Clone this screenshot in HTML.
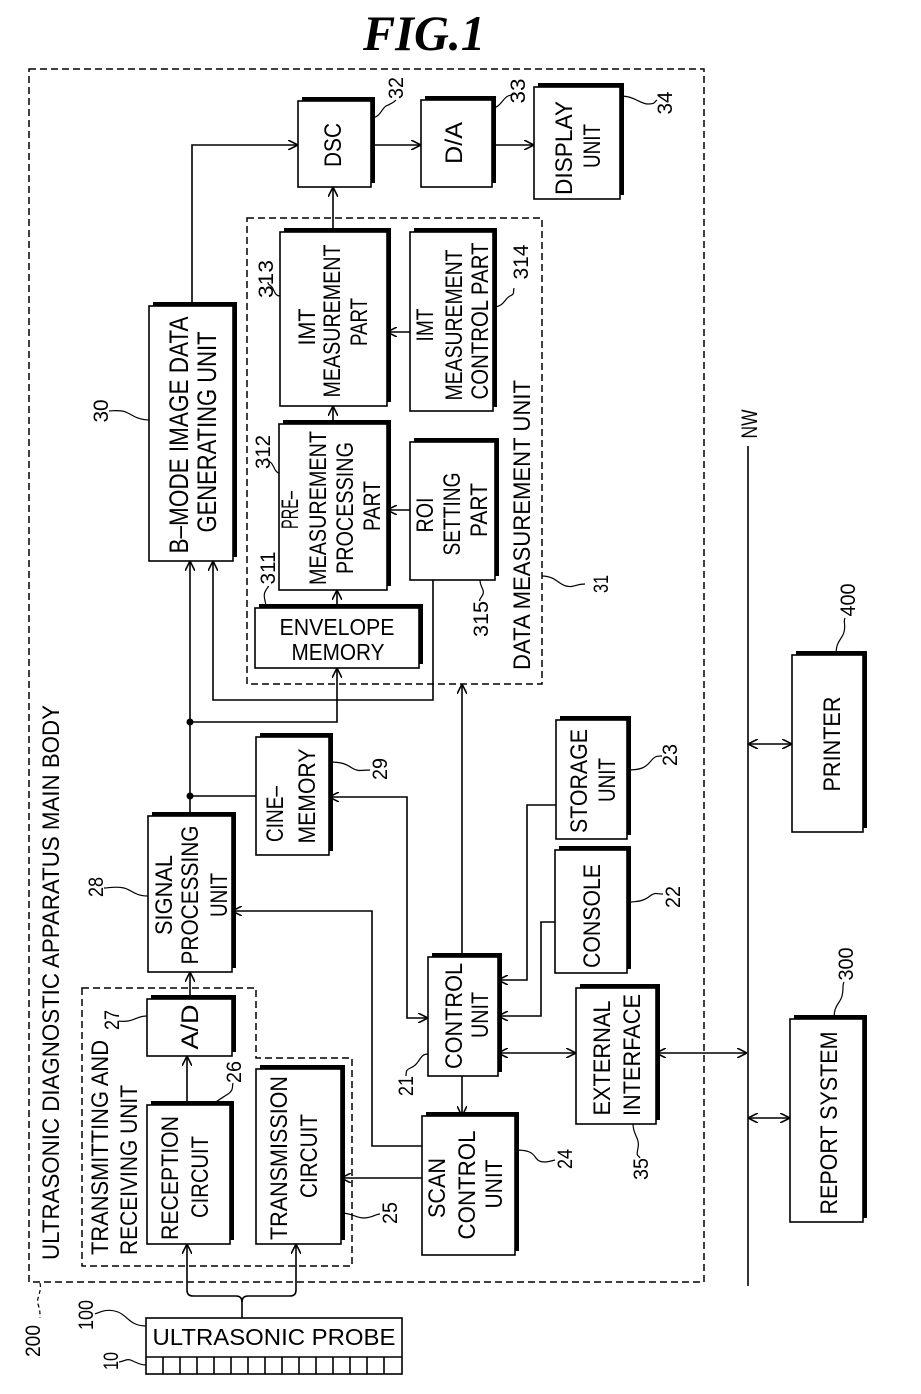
<!DOCTYPE html>
<html><head><meta charset="utf-8"><style>
html,body{margin:0;padding:0;background:#fff;}
svg{display:block;}
.t{font-family:"Liberation Sans",sans-serif;font-size:24px;fill:#000;}
.n{font-family:"Liberation Sans",sans-serif;font-size:21px;fill:#000;}
.l{fill:none;stroke:#000;stroke-width:1.6;}
.d{fill:none;stroke:#000;stroke-width:1.5;stroke-dasharray:7,4;}
.q{fill:none;stroke:#000;stroke-width:1.2;}
</style></head><body>
<svg width="921" height="1394" viewBox="0 0 921 1394" xmlns="http://www.w3.org/2000/svg">
<defs>
<marker id="a" viewBox="0 0 10 10" refX="10" refY="5" markerWidth="10" markerHeight="10" markerUnits="userSpaceOnUse" orient="auto-start-reverse">
<path d="M0,0 L10,5 L0,10" fill="none" stroke="#000" stroke-width="1.6"/>
</marker>
</defs>

<text x="424" y="50" text-anchor="middle" textLength="122" lengthAdjust="spacingAndGlyphs" style="font-family:'Liberation Serif',serif;font-weight:bold;font-style:italic;font-size:50px;">FIG.1</text>

<!-- dashed frames -->
<rect class="d" x="29" y="69" width="675" height="1213"/>
<rect class="d" x="247" y="218" width="295" height="466"/>
<path class="d" d="M82,988 H256 V1058 H352 V1266 H82 Z"/>

<!-- boxes with shadow -->
<g>
<rect x="302" y="97" width="73" height="86" fill="#000"/><rect x="298" y="101" width="73" height="86" fill="#fff" stroke="#000" stroke-width="1.6"/>
<rect x="425" y="96" width="71" height="87" fill="#000"/><rect x="421" y="100" width="71" height="87" fill="#fff" stroke="#000" stroke-width="1.6"/>
<rect x="538" y="83" width="86" height="112" fill="#000"/><rect x="534" y="87" width="86" height="112" fill="#fff" stroke="#000" stroke-width="1.6"/>
<rect x="153" y="302" width="84" height="255" fill="#000"/><rect x="149" y="306" width="84" height="255" fill="#fff" stroke="#000" stroke-width="1.6"/>
<rect x="284" y="228" width="107" height="174" fill="#000"/><rect x="280" y="232" width="107" height="174" fill="#fff" stroke="#000" stroke-width="1.6"/>
<rect x="283" y="420" width="108" height="166" fill="#000"/><rect x="279" y="424" width="108" height="166" fill="#fff" stroke="#000" stroke-width="1.6"/>
<rect x="259" y="604" width="164" height="60" fill="#000"/><rect x="255" y="608" width="164" height="60" fill="#fff" stroke="#000" stroke-width="1.6"/>
<rect x="414" y="228" width="83" height="179" fill="#000"/><rect x="410" y="232" width="83" height="179" fill="#fff" stroke="#000" stroke-width="1.6"/>
<rect x="414" y="438" width="85" height="138" fill="#000"/><rect x="410" y="442" width="85" height="138" fill="#fff" stroke="#000" stroke-width="1.6"/>
<rect x="260" y="733" width="73" height="118" fill="#000"/><rect x="256" y="737" width="73" height="118" fill="#fff" stroke="#000" stroke-width="1.6"/>
<rect x="152" y="812" width="84" height="156" fill="#000"/><rect x="148" y="816" width="84" height="156" fill="#fff" stroke="#000" stroke-width="1.6"/>
<rect x="151" y="995" width="85" height="57" fill="#000"/><rect x="147" y="999" width="85" height="57" fill="#fff" stroke="#000" stroke-width="1.6"/>
<rect x="151" y="1101" width="83" height="139" fill="#000"/><rect x="147" y="1105" width="83" height="139" fill="#fff" stroke="#000" stroke-width="1.6"/>
<rect x="260" y="1065" width="85" height="175" fill="#000"/><rect x="256" y="1069" width="85" height="175" fill="#fff" stroke="#000" stroke-width="1.6"/>
<rect x="432" y="953" width="70" height="119" fill="#000"/><rect x="428" y="957" width="70" height="119" fill="#fff" stroke="#000" stroke-width="1.6"/>
<rect x="426" y="1112" width="93" height="139" fill="#000"/><rect x="422" y="1116" width="93" height="139" fill="#fff" stroke="#000" stroke-width="1.6"/>
<rect x="560" y="716" width="71" height="119" fill="#000"/><rect x="556" y="720" width="71" height="119" fill="#fff" stroke="#000" stroke-width="1.6"/>
<rect x="559" y="846" width="72" height="123" fill="#000"/><rect x="555" y="850" width="72" height="123" fill="#fff" stroke="#000" stroke-width="1.6"/>
<rect x="580" y="984" width="80" height="136" fill="#000"/><rect x="576" y="988" width="80" height="136" fill="#fff" stroke="#000" stroke-width="1.6"/>
<rect x="796" y="651" width="71" height="177" fill="#000"/><rect x="792" y="655" width="71" height="177" fill="#fff" stroke="#000" stroke-width="1.6"/>
<rect x="794" y="1015" width="73" height="203" fill="#000"/><rect x="790" y="1019" width="73" height="203" fill="#fff" stroke="#000" stroke-width="1.6"/>
</g>

<!-- probe -->
<rect x="146" y="1318" width="256" height="56" fill="#fff" stroke="#000" stroke-width="1.6"/>
<line class="l" x1="146" y1="1357" x2="402" y2="1357"/>
<path class="l" d="M163,1357V1374M180,1357V1374M197,1357V1374M214,1357V1374M231,1357V1374M248,1357V1374M265,1357V1374M282,1357V1374M299,1357V1374M316,1357V1374M333,1357V1374M350,1357V1374M367,1357V1374M384,1357V1374"/>

<!-- connectors -->
<path class="l" d="M192,306 V145 H298" marker-end="url(#a)"/>
<path class="l" d="M371,145 H421" marker-end="url(#a)"/>
<path class="l" d="M492,145 H534" marker-end="url(#a)"/>
<path class="l" d="M333,232 V187" marker-end="url(#a)"/>
<path class="l" d="M333,424 V406" marker-end="url(#a)"/>
<path class="l" d="M337,608 V590" marker-end="url(#a)"/>
<path class="l" d="M410,332 H387" marker-end="url(#a)"/>
<path class="l" d="M410,510 H387" marker-end="url(#a)"/>
<path class="l" d="M433,580 V700 H213 V561" marker-end="url(#a)"/>
<path class="l" d="M190,816 V561" marker-end="url(#a)"/>
<path class="l" d="M190,722 H337 V668" marker-end="url(#a)"/>
<path class="l" d="M190,796 H256"/>
<circle cx="190" cy="722" r="3.5"/><circle cx="190" cy="796" r="3.5"/>
<path class="l" d="M329,797 H407 V1018 H428" marker-start="url(#a)" marker-end="url(#a)"/>
<path class="l" d="M462,957 V684" marker-end="url(#a)"/>
<path class="l" d="M462,1076 V1116" marker-end="url(#a)"/>
<path class="l" d="M422,1146 H372 V911 H232" marker-end="url(#a)"/>
<path class="l" d="M422,1178 H341" marker-end="url(#a)"/>
<path class="l" d="M556,805 H527 V980 H498" marker-end="url(#a)"/>
<path class="l" d="M555,922 H541 V1016 H498" marker-end="url(#a)"/>
<path class="l" d="M498,1053 H576" marker-start="url(#a)" marker-end="url(#a)"/>
<path class="l" d="M656,1053 H747" marker-start="url(#a)" marker-end="url(#a)"/>
<path class="l" d="M748,744 H792" marker-start="url(#a)" marker-end="url(#a)"/>
<path class="l" d="M748,1118 H790" marker-start="url(#a)" marker-end="url(#a)"/>
<line class="l" x1="748" y1="446" x2="748" y2="1286"/>
<path class="l" d="M187,1105 V1056" marker-end="url(#a)"/>
<path class="l" d="M190,999 V972" marker-end="url(#a)"/>
<path class="l" d="M242,1318 V1302 Q242,1296 236,1296 H193 Q187,1296 187,1290 V1244" marker-end="url(#a)"/>
<path class="l" d="M242,1302 Q242,1296 248,1296 H290 Q296,1296 296,1290 V1244" marker-end="url(#a)"/>

<!-- leaders -->
<path class="q" d="M371,118 C380,118 382,108 386,106 S392,104 396,100"/>
<path class="q" d="M492,108 C500,108 503,98 508,96 S513,95 515,93"/>
<path class="q" d="M620,96 C635,96 640,104 648,104 S654,102 657,100"/>
<path class="q" d="M149,420 C135,420 130,412 122,411 S112,411 109,411"/>
<path class="q" d="M280,296 C274,296 274,288 271,286 S268,284 268,282"/>
<path class="q" d="M279,473 C274,472 274,464 270,462 S268,460 267,458"/>
<path class="q" d="M266,608 C266,600 262,596 266,590 S268,588 268,586"/>
<path class="q" d="M493,307 C504,307 505,298 510,296 S513,292 514,288"/>
<path class="q" d="M480,580 C480,588 486,590 482,596 S480,600 480,601"/>
<path class="q" d="M542,576 C555,576 558,584 566,586 S575,584 585,584"/>
<path class="q" d="M836,655 C836,640 842,640 844,632 S843,622 845,618"/>
<path class="q" d="M834,1019 C834,1004 840,1004 842,996 S842,986 844,982"/>
<path class="q" d="M627,770 C640,770 645,768 650,762 S656,756 662,756"/>
<path class="q" d="M627,902 C640,902 645,900 650,896 S656,894 663,894"/>
<path class="q" d="M633,1124 C633,1135 640,1138 638,1148 S638,1154 640,1158"/>
<path class="q" d="M515,1150 C528,1150 532,1152 536,1158 S548,1162 555,1160"/>
<path class="q" d="M428,1054 C420,1054 420,1062 414,1066 S406,1068 406,1076"/>
<path class="q" d="M329,762 C342,762 346,764 352,768 S362,770 370,770"/>
<path class="q" d="M148,896 C135,896 132,890 124,888 S110,888 104,888"/>
<path class="q" d="M147,1016 C138,1016 135,1020 128,1021 S121,1021 119,1021"/>
<path class="q" d="M212,1105 C218,1100 222,1098 228,1094 S232,1086 233,1083"/>
<path class="q" d="M341,1213 C352,1213 356,1218 364,1218 S376,1214 380,1214"/>
<path class="q" d="M146,1326 C130,1326 128,1316 118,1312 S100,1312 95,1314"/>
<path class="q" d="M146,1365 C136,1365 132,1358 126,1360 S120,1362 119,1362"/>
<path class="q" d="M40,1283 C42,1292 36,1298 38,1304 S40,1312 40,1318" stroke-dasharray="4,3"/>

<!-- horizontal texts -->
<text class="t" x="337" y="635" text-anchor="middle" textLength="115" lengthAdjust="spacingAndGlyphs" style="font-size:23px">ENVELOPE</text>
<text class="t" x="338" y="660" text-anchor="middle" textLength="93" lengthAdjust="spacingAndGlyphs" style="font-size:23px">MEMORY</text>
<text class="t" x="274" y="1345" text-anchor="middle" textLength="243" lengthAdjust="spacingAndGlyphs" style="font-size:23px">ULTRASONIC PROBE</text>

<!-- rotated texts -->
<g class="t" text-anchor="middle">
<text transform="translate(341,145) rotate(-90)" textLength="44" lengthAdjust="spacingAndGlyphs">DSC</text>
<text transform="translate(462,143) rotate(-90)" textLength="42" lengthAdjust="spacingAndGlyphs">D/A</text>
<text transform="translate(572,148) rotate(-90)" textLength="94" lengthAdjust="spacingAndGlyphs">DISPLAY</text>
<text transform="translate(600,146) rotate(-90)" textLength="44" lengthAdjust="spacingAndGlyphs">UNIT</text>
<text transform="translate(188,435) rotate(-90)" textLength="237" lengthAdjust="spacingAndGlyphs" style="font-size:27px">B–MODE IMAGE DATA</text>
<text transform="translate(216,432) rotate(-90)" textLength="201" lengthAdjust="spacingAndGlyphs" style="font-size:27px">GENERATING UNIT</text>
<text transform="translate(315,327) rotate(-90)" textLength="37" lengthAdjust="spacingAndGlyphs">IMT</text>
<text transform="translate(340,321) rotate(-90)" textLength="153" lengthAdjust="spacingAndGlyphs">MEASUREMENT</text>
<text transform="translate(367,322) rotate(-90)" textLength="48" lengthAdjust="spacingAndGlyphs">PART</text>
<text transform="translate(298,510) rotate(-90)" textLength="38" lengthAdjust="spacingAndGlyphs">PRE–</text>
<text transform="translate(326,508) rotate(-90)" textLength="154" lengthAdjust="spacingAndGlyphs">MEASUREMENT</text>
<text transform="translate(353,508) rotate(-90)" textLength="132" lengthAdjust="spacingAndGlyphs">PROCESSING</text>
<text transform="translate(380,506) rotate(-90)" textLength="50" lengthAdjust="spacingAndGlyphs">PART</text>
<text transform="translate(433,325) rotate(-90)" textLength="33" lengthAdjust="spacingAndGlyphs">IMT</text>
<text transform="translate(462,325) rotate(-90)" textLength="151" lengthAdjust="spacingAndGlyphs">MEASUREMENT</text>
<text transform="translate(488,321) rotate(-90)" textLength="157" lengthAdjust="spacingAndGlyphs">CONTROL PART</text>
<text transform="translate(433,515) rotate(-90)" textLength="35" lengthAdjust="spacingAndGlyphs">ROI</text>
<text transform="translate(460,514) rotate(-90)" textLength="83" lengthAdjust="spacingAndGlyphs">SETTING</text>
<text transform="translate(487,510) rotate(-90)" textLength="54" lengthAdjust="spacingAndGlyphs">PART</text>
<text transform="translate(530,525) rotate(-90)" textLength="290" lengthAdjust="spacingAndGlyphs">DATA MEASUREMENT UNIT</text>
<text transform="translate(283,814) rotate(-90)" textLength="56" lengthAdjust="spacingAndGlyphs">CINE–</text>
<text transform="translate(315,796) rotate(-90)" textLength="95" lengthAdjust="spacingAndGlyphs">MEMORY</text>
<text transform="translate(172,895) rotate(-90)" textLength="80" lengthAdjust="spacingAndGlyphs">SIGNAL</text>
<text transform="translate(198,895) rotate(-90)" textLength="139" lengthAdjust="spacingAndGlyphs">PROCESSING</text>
<text transform="translate(227,895) rotate(-90)" textLength="44" lengthAdjust="spacingAndGlyphs">UNIT</text>
<text transform="translate(198,1027) rotate(-90)" textLength="45" lengthAdjust="spacingAndGlyphs">A/D</text>
<text transform="translate(178,1178) rotate(-90)" textLength="124" lengthAdjust="spacingAndGlyphs">RECEPTION</text>
<text transform="translate(208,1177) rotate(-90)" textLength="82" lengthAdjust="spacingAndGlyphs">CIRCUIT</text>
<text transform="translate(287,1158) rotate(-90)" textLength="164" lengthAdjust="spacingAndGlyphs">TRANSMISSION</text>
<text transform="translate(317,1156) rotate(-90)" textLength="84" lengthAdjust="spacingAndGlyphs">CIRCUIT</text>
<text transform="translate(462,1016) rotate(-90)" textLength="106" lengthAdjust="spacingAndGlyphs">CONTROL</text>
<text transform="translate(488,1015) rotate(-90)" textLength="46" lengthAdjust="spacingAndGlyphs">UNIT</text>
<text transform="translate(445,1188) rotate(-90)" textLength="60" lengthAdjust="spacingAndGlyphs">SCAN</text>
<text transform="translate(475,1185) rotate(-90)" textLength="109" lengthAdjust="spacingAndGlyphs">CONTROL</text>
<text transform="translate(502,1184) rotate(-90)" textLength="49" lengthAdjust="spacingAndGlyphs">UNIT</text>
<text transform="translate(587,781) rotate(-90)" textLength="104" lengthAdjust="spacingAndGlyphs">STORAGE</text>
<text transform="translate(615,780) rotate(-90)" textLength="44" lengthAdjust="spacingAndGlyphs">UNIT</text>
<text transform="translate(600,916) rotate(-90)" textLength="104" lengthAdjust="spacingAndGlyphs">CONSOLE</text>
<text transform="translate(610,1058) rotate(-90)" textLength="115" lengthAdjust="spacingAndGlyphs">EXTERNAL</text>
<text transform="translate(640,1055) rotate(-90)" textLength="122" lengthAdjust="spacingAndGlyphs">INTERFACE</text>
<text transform="translate(840,744) rotate(-90)" textLength="95" lengthAdjust="spacingAndGlyphs">PRINTER</text>
<text transform="translate(837,1123) rotate(-90)" textLength="183" lengthAdjust="spacingAndGlyphs">REPORT SYSTEM</text>
<text transform="translate(757,424) rotate(-90)" textLength="29" lengthAdjust="spacingAndGlyphs" style="font-size:22px">NW</text>
</g>
<g class="t" text-anchor="start">
<text transform="translate(108,1255) rotate(-90)" textLength="215" lengthAdjust="spacingAndGlyphs">TRANSMITTING AND</text>
<text transform="translate(137,1255) rotate(-90)" textLength="170" lengthAdjust="spacingAndGlyphs">RECEIVING UNIT</text>
<text transform="translate(59,1260) rotate(-90)" textLength="555" lengthAdjust="spacingAndGlyphs">ULTRASONIC DIAGNOSTIC APPARATUS MAIN BODY</text>
</g>

<!-- reference numerals -->
<g class="n" text-anchor="middle">
<text transform="translate(403,88) rotate(-90)" textLength="22" lengthAdjust="spacingAndGlyphs">32</text>
<text transform="translate(525,91) rotate(-90)" textLength="25" lengthAdjust="spacingAndGlyphs">33</text>
<text transform="translate(672,103) rotate(-90)" textLength="23" lengthAdjust="spacingAndGlyphs">34</text>
<text transform="translate(108,411) rotate(-90)" textLength="23" lengthAdjust="spacingAndGlyphs">30</text>
<text transform="translate(273,279) rotate(-90)" textLength="38" lengthAdjust="spacingAndGlyphs">313</text>
<text transform="translate(270,452) rotate(-90)" textLength="34" lengthAdjust="spacingAndGlyphs">312</text>
<text transform="translate(275,568) rotate(-90)" textLength="33" lengthAdjust="spacingAndGlyphs">311</text>
<text transform="translate(528,262) rotate(-90)" textLength="35" lengthAdjust="spacingAndGlyphs">314</text>
<text transform="translate(488,619) rotate(-90)" textLength="36" lengthAdjust="spacingAndGlyphs">315</text>
<text transform="translate(608,584) rotate(-90)" textLength="18" lengthAdjust="spacingAndGlyphs">31</text>
<text transform="translate(855,600) rotate(-90)" textLength="33" lengthAdjust="spacingAndGlyphs">400</text>
<text transform="translate(853,964) rotate(-90)" textLength="33" lengthAdjust="spacingAndGlyphs">300</text>
<text transform="translate(677,755) rotate(-90)" textLength="22" lengthAdjust="spacingAndGlyphs">23</text>
<text transform="translate(680,897) rotate(-90)" textLength="22" lengthAdjust="spacingAndGlyphs">22</text>
<text transform="translate(648,1169) rotate(-90)" textLength="22" lengthAdjust="spacingAndGlyphs">35</text>
<text transform="translate(572,1159) rotate(-90)" textLength="20" lengthAdjust="spacingAndGlyphs">24</text>
<text transform="translate(413,1086) rotate(-90)" textLength="20" lengthAdjust="spacingAndGlyphs">21</text>
<text transform="translate(387,769) rotate(-90)" textLength="22" lengthAdjust="spacingAndGlyphs">29</text>
<text transform="translate(103,887) rotate(-90)" textLength="20" lengthAdjust="spacingAndGlyphs">28</text>
<text transform="translate(119,1020) rotate(-90)" textLength="20" lengthAdjust="spacingAndGlyphs">27</text>
<text transform="translate(241,1072) rotate(-90)" textLength="22" lengthAdjust="spacingAndGlyphs">26</text>
<text transform="translate(397,1213) rotate(-90)" textLength="22" lengthAdjust="spacingAndGlyphs">25</text>
<text transform="translate(40,1341) rotate(-90)" textLength="32" lengthAdjust="spacingAndGlyphs">200</text>
<text transform="translate(93,1315) rotate(-90)" textLength="30" lengthAdjust="spacingAndGlyphs">100</text>
<text transform="translate(118,1361) rotate(-90)" textLength="18" lengthAdjust="spacingAndGlyphs">10</text>
</g>
</svg>
</body></html>
